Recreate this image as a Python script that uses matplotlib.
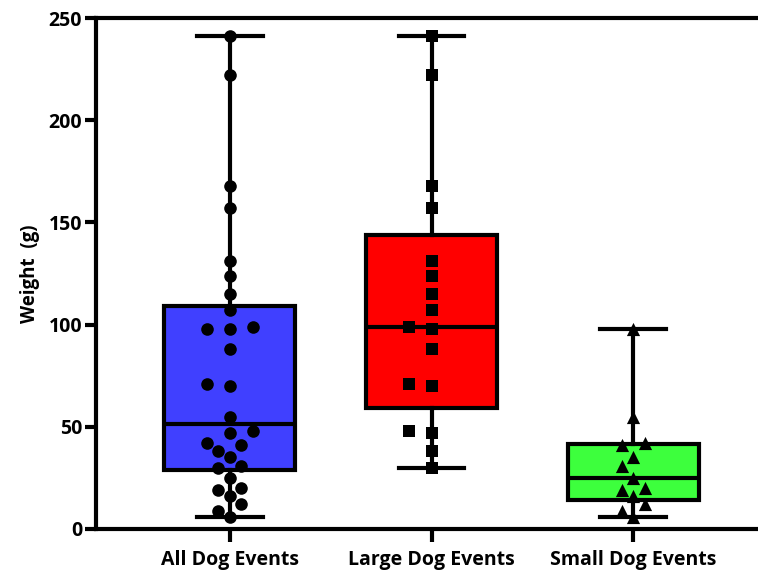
"""Weight of dog events as box plots with individual points."""

import matplotlib

matplotlib.use("Agg")
import matplotlib.pyplot as plt
import numpy as np

CATEGORIES = ["All Dog Events", "Large Dog Events", "Small Dog Events"]
ALL_DOG = [241, 222, 168, 157, 131, 124, 115, 107, 99, 98, 98, 88, 71, 70, 55,
           48, 47, 42, 41, 38, 35, 31, 30, 25, 20, 19, 16, 12, 9, 6]
LARGE_DOG = [241, 222, 168, 157, 131, 124, 115, 107, 99, 98, 88, 71, 70, 48,
             47, 38, 30]
SMALL_DOG = [98, 55, 42, 41, 35, 31, 25, 20, 19, 16, 12, 9, 6]
Y_TICKS = [0, 50, 100, 150, 200, 250]

BOX_COLORS = ["#4040FF", "#FF0000", "#3DFF3D"]
MARKERS = ["o", "s", "^"]
MARKER_SIZES = [82, 75, 90]

plt.rcParams["font.family"] = ["Open Sans", "DejaVu Sans"]
plt.rcParams["font.weight"] = "bold"


def box_stats(values, label):
    # Prism-style quartiles: (n+1) rank method
    q1, med, q3 = np.percentile(values, [25, 50, 75], method="weibull")
    return dict(label=label, med=med, q1=q1, q3=q3,
                whislo=min(values), whishi=max(values), fliers=[])


def swarm_offsets(ax, x0, values, step_px=11.5, dist_px=13.0):
    """Greedy swarm: put each point at the first free slot nearest the centre."""
    to_px = ax.transData.transform
    x_unit = to_px((1, 0))[0] - to_px((0, 0))[0]
    y_unit = to_px((0, 1))[1] - to_px((0, 0))[1]
    placed = []
    out = {}
    order = np.argsort(values)
    slots = [0, -1, 1, -2, 2, -3, 3]
    for i in order:
        y = values[i] * y_unit
        for s in slots:
            x = s * step_px
            if all((x - px) ** 2 + (y - py) ** 2 >= dist_px ** 2 for px, py in placed):
                break
        placed.append((x, y))
        out[i] = x0 + x / x_unit
    return [out[i] for i in range(len(values))]


fig = plt.figure(figsize=(7.58, 5.72), dpi=100)
ax = fig.add_axes([0.1266, 0.0752, 0.8734, 0.8933])
ax.set_xlim(0.335, 3.62)
ax.set_ylim(0, 250)

groups = [ALL_DOG, LARGE_DOG, SMALL_DOG]
positions = [1, 2, 3]
stats = [box_stats(g, c) for g, c in zip(groups, CATEGORIES)]
bp = ax.bxp(stats, positions=positions, widths=0.65, patch_artist=True,
            showfliers=False,
            boxprops=dict(linewidth=3, edgecolor="black"),
            medianprops=dict(linewidth=3, color="black"),
            whiskerprops=dict(linewidth=3, color="black"),
            capprops=dict(linewidth=3, color="black"))
for patch, color in zip(bp["boxes"], BOX_COLORS):
    patch.set_facecolor(color)

for pos, vals, mk, ms in zip(positions, groups, MARKERS, MARKER_SIZES):
    xs = swarm_offsets(ax, pos, vals)
    ax.scatter(xs, vals, marker=mk, s=ms, color="black", zorder=5,
               linewidths=0)

ax.set_xticks(positions, CATEGORIES)
ax.set_yticks(Y_TICKS)
ax.tick_params(axis="both", width=3, length=8, labelsize=14, pad=2)
ax.tick_params(axis="x", length=9, pad=6)
for lab in ax.get_xticklabels() + ax.get_yticklabels():
    lab.set_fontweight("bold")
ax.set_ylabel("Weight  (g)", fontsize=13.5, fontweight="bold", labelpad=6)

for side in ["left", "bottom", "top"]:
    ax.spines[side].set_linewidth(3)
ax.spines["right"].set_visible(False)

fig.savefig("out.png", dpi=100)
